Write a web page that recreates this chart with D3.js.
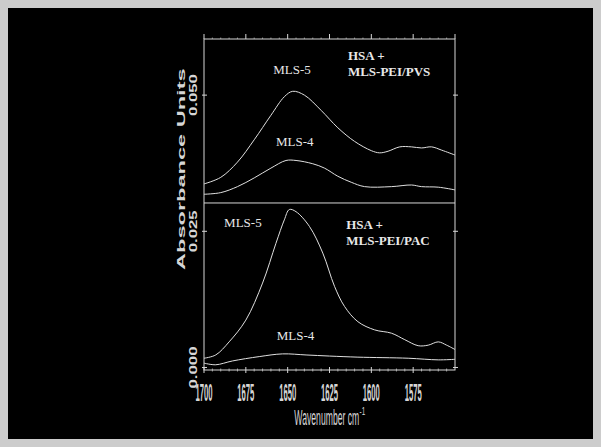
<!DOCTYPE html>
<html>
<head>
<meta charset="utf-8">
<script src="https://cdn.jsdelivr.net/npm/d3@7"></script>
<style>
  body { margin: 0; background: #cccccc; }
</style>
</head>
<body>
<div id="chart"></div>
<script>
// tick values / labels
const xTicks = [1700, 1675, 1650, 1625, 1600, 1575];
const yTicks = [0.000, 0.025, 0.050];
const yTickLabels = ["0.000", "0.025", "0.050"];

// top panel: HSA + MLS-PEI/PVS  (wavenumber, absorbance)
const pvsMls5 = [
  [1700, 0.0337], [1690, 0.0349], [1680, 0.0377], [1670, 0.0418], [1660, 0.0463],
  [1652, 0.0497], [1647, 0.0507], [1640, 0.0500], [1630, 0.0472], [1620, 0.0440],
  [1610, 0.0415], [1600, 0.0398], [1595, 0.0394], [1590, 0.0397], [1583, 0.0405],
  [1576, 0.0405], [1570, 0.0403], [1564, 0.0405], [1558, 0.0399], [1550, 0.0390]
];
const pvsMls4 = [
  [1700, 0.0318], [1690, 0.0321], [1680, 0.0332], [1670, 0.0348], [1660, 0.0366],
  [1651, 0.0380], [1645, 0.0380], [1635, 0.0374], [1628, 0.0366], [1620, 0.0351],
  [1612, 0.0340], [1604, 0.0332], [1588, 0.0332], [1576, 0.0335], [1570, 0.0332],
  [1560, 0.0331], [1550, 0.0326]
];

// bottom panel: HSA + MLS-PEI/PAC
const pacMls5 = [
  [1700, 0.0017], [1693, 0.0023], [1685, 0.0047], [1675, 0.0087], [1665, 0.0155],
  [1657, 0.0228], [1652, 0.0271], [1649, 0.0290], [1645, 0.0286], [1637, 0.0259],
  [1629, 0.0210], [1622, 0.0149], [1616, 0.0112], [1608, 0.0084], [1598, 0.0069],
  [1588, 0.0063], [1580, 0.0051], [1572, 0.0040], [1566, 0.0041], [1560, 0.0047],
  [1555, 0.0041], [1550, 0.0033]
];
const pacMls4 = [
  [1700, 0.0008], [1693, 0.0005], [1683, 0.0012], [1667, 0.0020], [1653, 0.0025],
  [1639, 0.0023], [1625, 0.0021], [1608, 0.0019], [1578, 0.0017], [1560, 0.0014],
  [1550, 0.0015]
];

const W = 601, H = 447;
const margin = {top: 39, right: 146, bottom: 77, left: 204};
const width = W - margin.left - margin.right,
      height = H - margin.top - margin.bottom;

const fg = "#d6d6d6";
const sans = "Liberation Sans, Arial, sans-serif";

const svg = d3.select("#chart")
  .append("svg")
    .attr("width", W)
    .attr("height", H);

// grey border + black page
svg.append("rect").attr("width", W).attr("height", H).attr("fill", "#cccccc");
svg.append("rect").attr("x", 8).attr("y", 8).attr("width", W - 16).attr("height", H - 16).attr("fill", "#000");

const g = svg.append("g")
  .attr("transform", `translate(${margin.left}, ${margin.top})`);

const x = d3.scaleLinear().domain([1700, 1550]).range([0, width]);
const y = d3.scaleLinear().domain([-0.00046, 0.0603]).range([height, 0]);
const panelSplit = 0.0302;

// frame and panel divider
g.append("rect")
  .attr("width", width).attr("height", height)
  .attr("fill", "none").attr("stroke", fg).attr("stroke-width", 1);
g.append("line")
  .attr("x1", 0).attr("x2", width)
  .attr("y1", y(panelSplit)).attr("y2", y(panelSplit))
  .attr("stroke", fg).attr("stroke-width", 1);

// x ticks (major crossing the bottom axis, minor every 5)
const minor = d3.range(1700, 1549, -5).filter(d => d % 25 !== 0);
g.selectAll(".xmaj").data(xTicks).join("line")
  .attr("x1", d => x(d)).attr("x2", d => x(d))
  .attr("y1", height - 3).attr("y2", height + 3)
  .attr("stroke", fg);
g.selectAll(".xmin").data(minor).join("line")
  .attr("x1", d => x(d)).attr("x2", d => x(d))
  .attr("y1", height - 1.5).attr("y2", height + 1.5)
  .attr("stroke", fg).attr("stroke-width", 0.7);
// top axis ticks pointing up
g.selectAll(".xtop").data(xTicks.concat([1550])).join("line")
  .attr("x1", d => x(d)).attr("x2", d => x(d))
  .attr("y1", -5).attr("y2", 0)
  .attr("stroke", fg);
g.selectAll(".xtopmin").data(minor).join("line")
  .attr("x1", d => x(d)).attr("x2", d => x(d))
  .attr("y1", -1.5).attr("y2", 0)
  .attr("stroke", fg).attr("stroke-width", 0.6);

// x tick labels: tall, condensed digits
g.selectAll(".xlab").data(xTicks).join("text")
  .attr("transform", d => `translate(${x(d)}, ${height + 31}) scale(0.64, 1.95)`)
  .attr("text-anchor", "middle")
  .attr("font-family", sans)
  .attr("font-weight", "bold")
  .attr("font-size", 12)
  .attr("fill", fg)
  .text(d => d);

// y ticks on both sides
g.selectAll(".yl").data(yTicks).join("line")
  .attr("x1", -2).attr("x2", 3)
  .attr("y1", d => y(d)).attr("y2", d => y(d))
  .attr("stroke", fg);
g.selectAll(".yr").data(yTicks).join("line")
  .attr("x1", width - 2).attr("x2", width + 3)
  .attr("y1", d => y(d)).attr("y2", d => y(d))
  .attr("stroke", fg);

// y tick labels, rotated and stretched
g.selectAll(".ylab").data(yTicks).join("text")
  .attr("transform", d => `translate(-11, ${y(d)}) rotate(-90) scale(1.6, 1)`)
  .attr("text-anchor", "middle")
  .attr("dominant-baseline", "central")
  .attr("font-family", sans)
  .attr("font-weight", "bold")
  .attr("font-size", 10.5)
  .attr("fill", fg)
  .text((d, i) => yTickLabels[i]);

// axis titles
g.append("text")
  .attr("transform", `translate(-23, ${y(0.0364)}) rotate(-90) scale(2.05, 1)`)
  .attr("text-anchor", "middle")
  .attr("dominant-baseline", "central")
  .attr("font-family", sans)
  .attr("font-weight", "bold")
  .attr("font-size", 11.5)
  .attr("fill", fg)
  .text("Absorbance Units");

g.append("text")
  .attr("transform", `translate(${x(1646)}, ${height + 55}) scale(0.72, 1.8)`)
  .attr("font-family", sans)
  .attr("font-size", 12)
  .attr("fill", fg)
  .text("Wavenumber cm");
g.append("text")
  .attr("transform", `translate(${x(1607)}, ${height + 45}) scale(0.8, 1.3)`)
  .attr("font-family", sans)
  .attr("font-size", 8)
  .attr("fill", fg)
  .text("-1");

// spectra
const line = d3.line()
  .curve(d3.curveCatmullRom)
  .x(d => x(d[0]))
  .y(d => y(d[1]));

[pvsMls5, pvsMls4, pacMls5, pacMls4].forEach(s => {
  g.append("path")
    .datum(s)
    .attr("fill", "none")
    .attr("stroke", "#e0e0e0")
    .attr("stroke-width", 1)
    .attr("d", line);
});

// curve and panel labels
const serif = "Liberation Serif, Times New Roman, serif";
function label(txt, wx, v, bold) {
  g.append("text")
    .attr("x", x(wx)).attr("y", y(v))
    .attr("font-family", serif)
    .attr("font-size", 13)
    .attr("font-weight", bold ? "bold" : "normal")
    .attr("fill", "#e8e8e8")
    .text(txt);
}
label("MLS-5", 1658.6, 0.0538);
label("MLS-4", 1657, 0.0406);
label("MLS-5", 1688, 0.0257);
label("MLS-4", 1656.5, 0.0051);
label("HSA +", 1614, 0.0564, true);
label("MLS-PEI/PVS", 1614, 0.0535, true);
label("HSA +", 1615, 0.0254, true);
label("MLS-PEI/PAC", 1615, 0.0225, true);
</script>
</body>
</html>
